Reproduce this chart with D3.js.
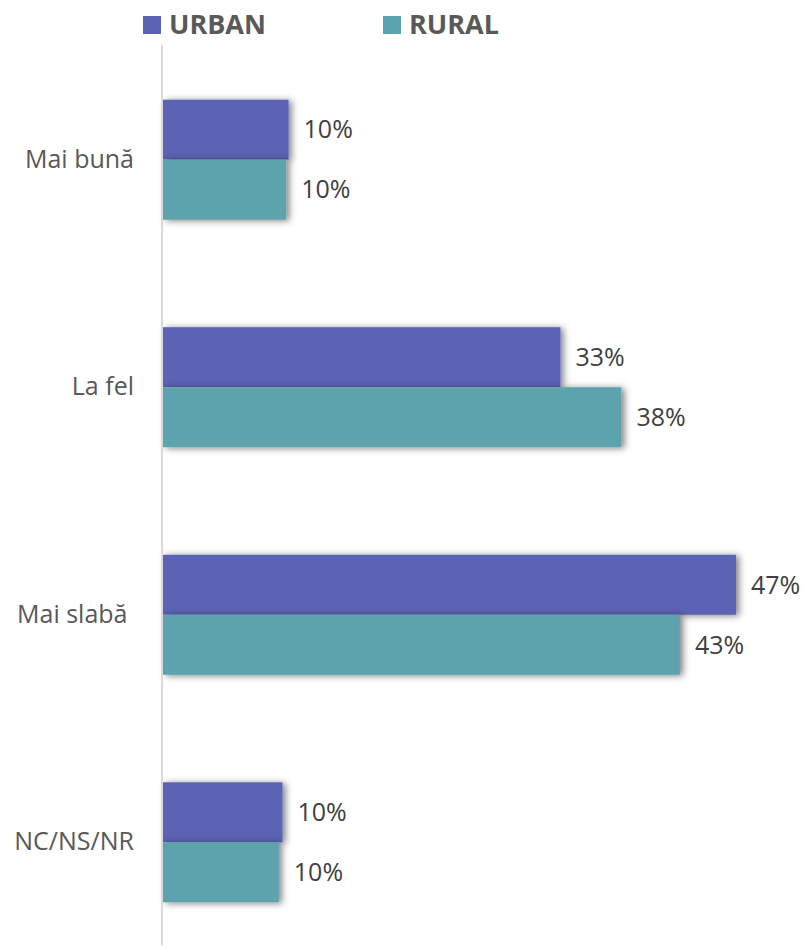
<!DOCTYPE html>
<html><head><meta charset="utf-8">
<script src="https://cdn.jsdelivr.net/npm/d3@7"></script>
<style>body{margin:0;background:#fff;} text{white-space:pre;}</style>
</head><body>
<svg id="chart" width="808" height="948"></svg>
<script>
const categories = ["Mai bună", "La fel", "Mai slabă ", "NC/NS/NR"];
const seriesNames = ["URBAN", "RURAL"];
const urban = [10.3, 32.6, 47.0, 9.8];
const rural = [10.1, 37.6, 42.4, 9.5];
const urbanLabels = ["10%", "33%", "47%", "10%"];
const ruralLabels = ["10%", "38%", "43%", "10%"];
const colors = ["#5B62B4", "#5BA3AE"];

(function(){
const svg = d3.select("#chart");
const font = "'Open Sans', 'Noto Sans', sans-serif";
const defs = svg.append("defs");
const f = defs.append("filter").attr("id","sh").attr("x","-10%").attr("y","-30%").attr("width","130%").attr("height","160%");
f.append("feDropShadow").attr("dx",3).attr("dy",1).attr("stdDeviation",3.5).attr("flood-color","#000").attr("flood-opacity",0.5);

const plotLeft = 163, plotTop = 46, plotBottom = 956;
const x = d3.scaleLinear().domain([0, 47]).range([plotLeft, 736]);
const y0 = d3.scaleBand().domain(categories).range([plotTop, plotBottom]).paddingInner(0.4725).paddingOuter(0.236);
const y1 = d3.scaleBand().domain(seriesNames).range([0, y0.bandwidth()]);

const data = categories.map((c,i)=>({cat:c, vals:[
  {s:"URBAN", v:urban[i], lab:urbanLabels[i]},
  {s:"RURAL", v:rural[i], lab:ruralLabels[i]}]}));

const g = svg.append("g");
const groups = g.selectAll("g.cat").data(data).join("g").attr("class","cat")
  .attr("transform", d=>`translate(0,${y0(d.cat)})`);
groups.selectAll("rect").data(d=>d.vals).join("rect")
  .attr("x", x(0)).attr("y", d=>y1(d.s)).attr("height", y1.bandwidth())
  .attr("width", d=>x(d.v)-x(0)).attr("fill",(d,i)=>colors[i]).attr("filter","url(#sh)");
groups.selectAll("text.val").data(d=>d.vals).join("text").attr("class","val")
  .attr("x", d=>x(d.v)+15).attr("y", d=>y1(d.s)+y1.bandwidth()/2)
  .attr("dy","0.35em").attr("font-family",font).attr("font-size",25).attr("fill","#404040")
  .text(d=>d.lab);

const yAxis = d3.axisLeft(y0).tickSize(0).tickPadding(28);
const ax = svg.append("g").attr("transform",`translate(${plotLeft-1},0)`).call(yAxis);
ax.select(".domain").attr("stroke","#d9d9d9").attr("stroke-width",2).attr("d","M0,45V945");
ax.selectAll("text").attr("font-family",font).attr("font-size",25).attr("fill","#595959");

const leg = svg.append("g");
const lx = [143, 383];
seriesNames.forEach((s,i)=>{
  leg.append("rect").attr("x",lx[i]).attr("y",16).attr("width",18).attr("height",18).attr("fill",colors[i]);
  leg.append("text").attr("x",lx[i]+26).attr("y",25).attr("dy","0.35em")
    .attr("font-family",font).attr("font-weight","bold").attr("font-size",27).attr("fill","#595959").text(s);
});
})();
</script>
</body></html>
